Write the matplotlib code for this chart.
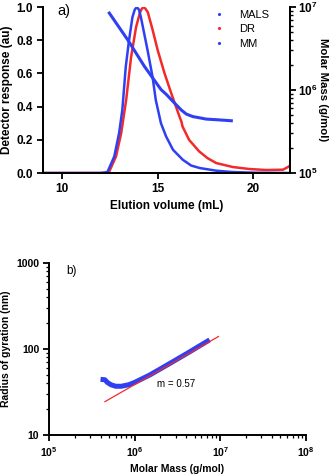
import matplotlib.pyplot as plt
import matplotlib.ticker as mticker
from matplotlib.lines import Line2D

plt.rcParams['font.family'] = ['Liberation Sans', 'DejaVu Sans']
plt.rcParams['mathtext.fontset'] = 'custom'
plt.rcParams['mathtext.rm'] = 'Liberation Sans'
plt.rcParams['mathtext.bf'] = 'Liberation Sans:bold'

BLUE = '#2f3ff2'
RED = '#f22a2a'

# panel a) detector traces, elution volume (mL) vs normalised response
mals_v = [9.0, 12.0, 12.37, 12.73, 12.98, 13.15, 13.33, 13.5, 13.68, 13.8,
          13.91, 14.02, 14.12, 14.47, 14.73, 14.9, 15.17, 15.44, 15.8, 16.31,
          16.75, 17.2, 18.06, 18.9, 20.0, 22.0]
mals_r = [0.0, 0.0, 0.005, 0.10, 0.24, 0.38, 0.64, 0.80, 0.94, 0.985,
          1.0, 0.985, 0.94, 0.74, 0.58, 0.44, 0.30, 0.22, 0.14, 0.08,
          0.045, 0.03, 0.014, 0.006, 0.002, 0.0]

dr_v = [9.0, 12.2, 12.47, 12.82, 13.09, 13.35, 13.61, 13.87, 14.08, 14.17,
        14.26, 14.36, 14.48, 14.74, 15.0, 15.36, 15.71, 16.14, 16.24, 16.3,
        16.64, 17.17, 17.6, 18.06, 18.93, 19.8, 20.68, 21.55, 21.81, 21.92]
dr_r = [0.0, 0.0, 0.01, 0.10, 0.24, 0.44, 0.70, 0.88, 0.97, 0.99,
        1.0, 0.99, 0.97, 0.86, 0.74, 0.60, 0.48, 0.34, 0.31, 0.28,
        0.20, 0.13, 0.09, 0.06, 0.036, 0.024, 0.018, 0.02, 0.036, 0.045]

mm_v = [12.47, 13.43, 14.31, 14.57, 15.18, 15.44, 15.88, 16.23, 16.5, 16.84,
        17.2, 17.54, 18.24, 18.85]
mm_logm = [6.928, 6.606, 6.284, 6.2, 6.004, 5.95, 5.843, 5.76, 5.71, 5.68,
           5.665, 5.65, 5.64, 5.63]

# panel b) conformation plot
rg_mass = [4.0e5, 4.5e5, 4.8e5, 5.3e5, 6.0e5, 7.0e5, 8.5e5, 1.0e6, 1.5e6,
           2.5e6, 4.0e6, 7.5e6]
rg_nm = [44.5, 44.0, 41.0, 38.5, 37.0, 37.0, 38.5, 41.0, 50.0, 67.0, 88.0, 128.0]
fit_mass = [4.5e5, 9.5e6]
fit_rg = [24.5, 140.0]
slope_label = 'm = 0.57'

fig = plt.figure(figsize=(3.33, 4.74), dpi=100)

# ---- top panel
ax1 = fig.add_axes([0.129, 0.635, 0.742, 0.35])
ax2 = ax1.twinx()
ax1.plot(mals_v, mals_r, color=BLUE, lw=1.8, zorder=3)
ax1.plot(dr_v, dr_r, color=RED, lw=1.8, zorder=2)
ax2.plot(mm_v, [10 ** v for v in mm_logm], color=BLUE, lw=2.2)

ax1.set_xlim(9, 21.92)
ax1.set_ylim(0, 1.0)
ax2.set_yscale('log')
ax2.set_ylim(1e5, 1e7)
ax1.set_xticks([10, 15, 20])
ax1.set_yticks([0.0, 0.2, 0.4, 0.6, 0.8, 1.0])
ax1.yaxis.set_major_formatter(mticker.FormatStrFormatter('%.1f'))
ax2.set_yticks([1e5, 1e6, 1e7])
ax2.set_yticklabels([r'$\mathbf{10^5}$', r'$\mathbf{10^6}$', r'$\mathbf{10^7}$'])

for ax in (ax1, ax2):
    ax.spines['top'].set_visible(False)
    for s in ax.spines.values():
        s.set_linewidth(1.4)
    ax.tick_params(which='major', width=1.3, length=4, labelsize=8.5)
    ax.tick_params(which='minor', width=1.0, length=2)
    for lab in ax.get_xticklabels() + ax.get_yticklabels():
        lab.set_fontweight('bold')
ax2.tick_params(which='major', pad=2)

ax1.set_xlabel('Elution volume (mL)', fontsize=8.5, fontweight='bold', labelpad=3)
ax1.set_ylabel('Detector response (au)', fontsize=8.5, fontweight='bold', labelpad=2)
ax2.set_ylabel('Molar Mass (g/mol)', fontsize=8.2, fontweight='bold',
               rotation=270, va='center')
ax2.yaxis.set_label_coords(1.135, 0.5)
ax1.text(9.75, 0.95, 'a)', fontsize=10.5)

handles = [Line2D([], [], ls='none', marker='.', ms=2.5, color=BLUE),
           Line2D([], [], ls='none', marker='.', ms=2.5, color=RED),
           Line2D([], [], ls='none', marker='.', ms=2.5, color=BLUE)]
ax1.legend(handles, ['MALS', 'DR', 'MM'], loc='upper right',
           bbox_to_anchor=(0.955, 1.045), frameon=False, fontsize=8,
           handlelength=1.2, labelspacing=0.4, handletextpad=1.2)

# ---- bottom panel
ax3 = fig.add_axes([0.147, 0.082, 0.772, 0.363])
ax3.plot(rg_mass, rg_nm, color=BLUE, lw=3.6, solid_capstyle='butt')
ax3.plot(fit_mass, fit_rg, color=RED, lw=0.9)
ax3.set_xscale('log')
ax3.set_yscale('log')
ax3.set_xlim(1e5, 1e8)
ax3.set_ylim(10, 1000)
ax3.set_xticks([1e5, 1e6, 1e7, 1e8])
ax3.set_xticklabels([r'$\mathbf{10^5}$', r'$\mathbf{10^6}$', r'$\mathbf{10^7}$',
                     r'$\mathbf{10^8}$'])
ax3.set_yticks([10, 100, 1000])
ax3.set_yticklabels(['10', '100', '1000'])
ax3.spines['top'].set_visible(False)
ax3.spines['right'].set_visible(False)
for s in ax3.spines.values():
    s.set_linewidth(1.4)
ax3.tick_params(which='major', width=1.3, length=4, labelsize=7.5, pad=3)
ax3.tick_params(which='minor', width=0.9, length=2)
for lab in ax3.get_xticklabels() + ax3.get_yticklabels():
    lab.set_fontweight('bold')
ax3.set_xlabel('Molar Mass (g/mol)', fontsize=7.5, fontweight='bold', labelpad=4)
ax3.set_ylabel('Radius of gyration (nm)', fontsize=7.5, fontweight='bold', labelpad=4)
ax3.text(1.6e5, 800, 'b)', fontsize=8.5, va='center')
ax3.text(1.8e6, 39, slope_label, fontsize=7, va='center')

fig.savefig('out.png', dpi=100)
